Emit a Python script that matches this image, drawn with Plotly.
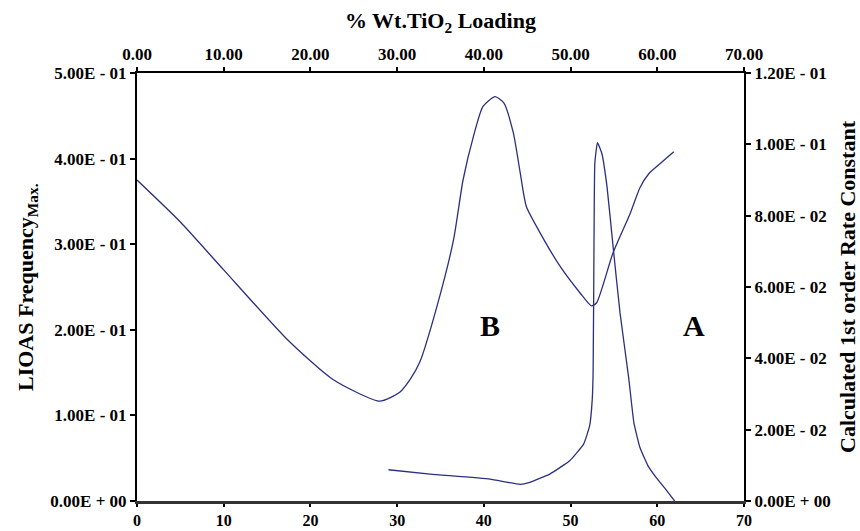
import plotly.graph_objects as go

# % Wt. TiO2 loading and LIOAS frequency maximum (left axis)
load_freq = [0.0, 5.0, 10.0, 17.3, 22.6, 28.0, 30.3, 31.5, 32.6, 34.6, 36.5, 37.6, 38.8,
             39.9, 41.3, 42.3, 43.4, 44.2, 44.9, 46.5, 48.8, 51.1, 52.4, 53.0, 54.9,
             56.9, 58.0, 59.0, 60.2, 61.9]
freq_max = [0.375, 0.326, 0.270, 0.189, 0.142, 0.1166, 0.127, 0.142, 0.162, 0.2277, 0.305,
            0.375, 0.426, 0.461, 0.4724, 0.465, 0.430, 0.383, 0.344, 0.313, 0.274, 0.243,
            0.228, 0.2316, 0.290, 0.3365, 0.366, 0.382, 0.393, 0.408]

# % Wt. TiO2 loading and calculated 1st order rate constant (right axis)
load_rate = [29.0, 33.8, 40.7, 44.2, 45.3, 47.6, 49.9, 51.5, 52.2, 52.5, 52.6, 52.7, 52.8,
             53.1, 53.6, 54.2, 54.9, 55.7, 56.7, 57.3, 58.0, 58.9, 59.9, 61.0, 62.0]
rate_const = [0.00876, 0.00755, 0.00615, 0.00467, 0.00523, 0.00755, 0.01127, 0.01594,
              0.0211, 0.0285, 0.0360, 0.0714, 0.0947, 0.1005, 0.0975, 0.0882, 0.0714,
              0.0528, 0.0346, 0.0220, 0.0150, 0.0100, 0.0065, 0.0032, 0.0]

x_ticks = [0, 10, 20, 30, 40, 50, 60, 70]
left_ticks = [0.0, 0.1, 0.2, 0.3, 0.4, 0.5]
left_labels = ["0.00E + 00", "1.00E - 01", "2.00E - 01", "3.00E - 01", "4.00E - 01", "5.00E - 01"]
right_ticks = [0.0, 0.02, 0.04, 0.06, 0.08, 0.10, 0.12]
right_labels = ["0.00E + 00", "2.00E - 02", "4.00E - 02", "6.00E - 02", "8.00E - 02",
                "1.00E - 01", "1.20E - 01"]


def bold(labels):
    return [f"<b>{t}</b>" for t in labels]


LINE = "#2b2f80"
FONT = "Liberation Serif"
tickfont = dict(family=FONT, size=17, color="black")
common = dict(showgrid=False, zeroline=False, showline=True, ticks="outside",
              tickwidth=1.5, tickcolor="black", automargin=False)

fig = go.Figure()
fig.add_trace(go.Scatter(x=load_freq, y=freq_max, mode="lines",
                         line=dict(color=LINE, width=1.3, shape="spline", smoothing=0.6),
                         xaxis="x", yaxis="y", showlegend=False, hoverinfo="skip"))
fig.add_trace(go.Scatter(x=load_rate, y=rate_const, mode="lines",
                         line=dict(color=LINE, width=1.3, shape="spline", smoothing=0.4),
                         xaxis="x", yaxis="y2", showlegend=False, hoverinfo="skip"))
# carrier trace for the top axis
fig.add_trace(go.Scatter(x=[0, 70], y=[0, 0], mode="lines", line=dict(width=0),
                         xaxis="x2", yaxis="y", showlegend=False, hoverinfo="skip"))

fig.update_layout(
    width=860, height=531,
    margin=dict(l=137, r=116, t=73, b=30),
    paper_bgcolor="white", plot_bgcolor="white",
    xaxis=dict(range=[0, 70], tickvals=x_ticks, ticktext=bold([str(v) for v in x_ticks]),
               linecolor="#333333", linewidth=3, ticklen=3,
               tickfont=dict(family=FONT, size=16, color="black"), **common),
    xaxis2=dict(range=[0, 70], overlaying="x", side="top", anchor="y",
                tickvals=x_ticks, ticktext=bold([f"{v:.2f}" for v in x_ticks]),
                linecolor="black", linewidth=2, ticklen=4, tickfont=tickfont, **common),
    yaxis=dict(range=[0, 0.5], tickvals=left_ticks, ticktext=bold(left_labels),
               linecolor="black", linewidth=2, ticklen=5, tickfont=tickfont, **common),
    yaxis2=dict(range=[0, 0.12], overlaying="y", side="right", anchor="x",
                tickvals=right_ticks, ticktext=bold(right_labels),
                linecolor="black", linewidth=2, ticklen=5, tickfont=tickfont, **common),
)

title_font = dict(family=FONT, size=22, color="black")
fig.add_annotation(text="<b>% Wt.TiO<sub>2</sub> Loading</b>", xref="paper", yref="paper",
                   x=0.5, y=1, yshift=51, yanchor="middle", showarrow=False, font=title_font)
fig.add_annotation(text="<b>LIOAS Frequency<sub>Max.</sub></b>", xref="paper", yref="paper",
                   x=0, xshift=-110, xanchor="center", y=0.5, textangle=-90,
                   showarrow=False, font=title_font)
fig.add_annotation(text="<b>Calculated 1st order Rate Constant</b>", xref="paper", yref="paper",
                   x=1, xshift=103, xanchor="center", y=0.5, textangle=-90,
                   showarrow=False, font=title_font)

label_font = dict(family=FONT, size=30, color="black")
fig.add_annotation(text="<b>B</b>", x=40.7, y=0.205, xref="x", yref="y",
                   showarrow=False, font=label_font)
fig.add_annotation(text="<b>A</b>", x=64.2, y=0.205, xref="x", yref="y",
                   showarrow=False, font=label_font)

fig.write_html("out.html")
